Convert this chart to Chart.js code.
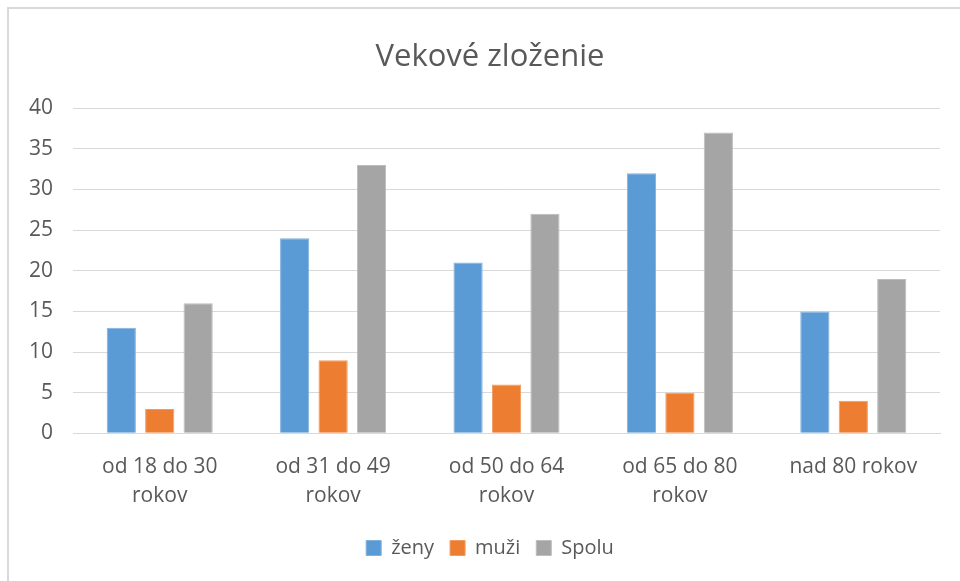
<!DOCTYPE html>
<html>
<head>
<meta charset="utf-8">
<script src="https://cdn.jsdelivr.net/npm/chart.js@4"></script>
<style>
  html, body { margin: 0; padding: 0; background: #ffffff; }
  #wrap { position: relative; width: 960px; height: 581px; overflow: hidden; }
  #frame { position: absolute; left: 7px; top: 7px; width: 1000px; height: 700px; border: 2px solid #d9d9d9; box-sizing: border-box; }
  #holder { position: absolute; left: 0; top: 0; width: 991px; height: 581px; }
</style>
</head>
<body>
<div id="wrap">
  <div id="frame"></div>
  <div id="holder"><canvas id="chart"></canvas></div>
</div>
<script>
// Vekové zloženie - data
const categories = [
  ['od 18 do 30', 'rokov'],
  ['od 31 do 49', 'rokov'],
  ['od 50 do 64', 'rokov'],
  ['od 65 do 80', 'rokov'],
  'nad 80 rokov'
];
const zeny = [13, 24, 21, 32, 15];
const muzi = [3, 9, 6, 5, 4];
const spolu = [16, 33, 27, 37, 19];
const yTicks = [0, 5, 10, 15, 20, 25, 30, 35, 40];

const FONT = 'Open Sans';
const TEXT = '#595959';

const ctx = document.getElementById('chart').getContext('2d');
new Chart(ctx, {
  type: 'bar',
  data: {
    labels: categories,
    datasets: [
      { label: 'ženy', data: zeny, backgroundColor: '#5b9bd5', borderColor: '#7fb1de', borderWidth: 1 },
      { label: 'muži', data: muzi, backgroundColor: '#ed7d31', borderColor: '#f29a5e', borderWidth: 1 },
      { label: 'Spolu', data: spolu, backgroundColor: '#a5a5a5', borderColor: '#bdbdbd', borderWidth: 1 }
    ]
  },
  options: {
    responsive: true,
    maintainAspectRatio: false,
    animation: false,
    datasets: {
      bar: { categoryPercentage: 0.665, barPercentage: 0.76 }
    },
    layout: { padding: { left: 9, right: 20, top: 39, bottom: 13 } },
    plugins: {
      title: {
        display: true,
        text: 'Vekové zloženie',
        color: TEXT,
        font: { family: FONT, size: 31, weight: 'normal' },
        padding: { top: 0, bottom: 32 }
      },
      legend: {
        position: 'bottom',
        labels: {
          color: TEXT,
          font: { family: FONT, size: 20 },
          boxWidth: 15,
          boxHeight: 15,
          padding: 16
        }
      },
      tooltip: { enabled: false }
    },
    scales: {
      y: {
        min: 0,
        max: 40,
        afterBuildTicks: axis => { axis.ticks = yTicks.map(v => ({ value: v })); },
        ticks: { color: TEXT, font: { family: FONT, size: 21 }, padding: 20 },
        grid: { color: '#d9d9d9', drawTicks: false, lineWidth: 1 },
        border: { display: false }
      },
      // empty spacer on the right so the plot ends where the frame's visible part does
      spacer: {
        type: 'linear',
        position: 'right',
        display: true,
        ticks: { display: false },
        grid: { display: false },
        border: { display: false },
        afterFit: axis => { axis.width = 31; }
      },
      x: {
        ticks: { color: TEXT, font: { family: FONT, size: 21, lineHeight: 1.35 }, padding: 12, maxRotation: 0 },
        grid: { display: false },
        border: { color: '#d9d9d9' }
      }
    }
  }
});
</script>
</body>
</html>
